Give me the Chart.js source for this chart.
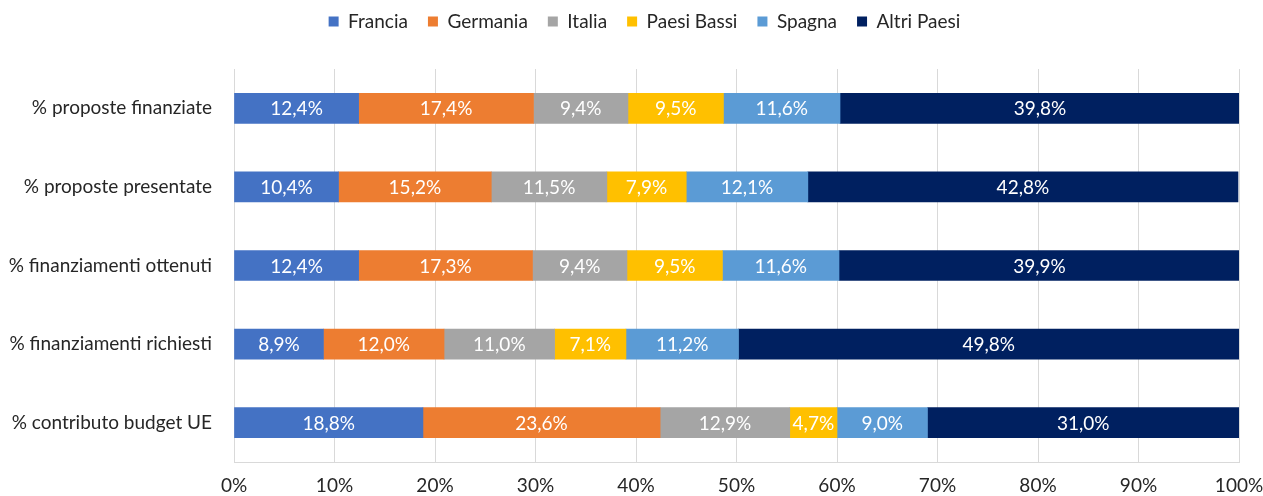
<!DOCTYPE html>
<html>
<head>
<meta charset="utf-8">
<script src="https://cdn.jsdelivr.net/npm/chart.js@4/dist/chart.umd.min.js"></script>
<style>
  html, body { margin: 0; padding: 0; background: #fff; }
  #wrap { width: 1263px; height: 496px; }
</style>
</head>
<body>
<div id="wrap"><canvas id="myChart" width="1263" height="496"></canvas></div>
<script>
const categories = [
  '% proposte finanziate',
  '% proposte presentate',
  '% finanziamenti ottenuti',
  '% finanziamenti richiesti',
  '% contributo budget UE'
];
const seriesNames = ['Francia', 'Germania', 'Italia', 'Paesi Bassi', 'Spagna', 'Altri Paesi'];
const francia = [12.4, 10.4, 12.4, 8.9, 18.8];
const germania = [17.4, 15.2, 17.3, 12.0, 23.6];
const italia = [9.4, 11.5, 9.4, 11.0, 12.9];
const paesiBassi = [9.5, 7.9, 9.5, 7.1, 4.7];
const spagna = [11.6, 12.1, 11.6, 11.2, 9.0];
const altriPaesi = [39.8, 42.8, 39.9, 49.8, 31.0];
const tickLabels = ['0%', '10%', '20%', '30%', '40%', '50%', '60%', '70%', '80%', '90%', '100%'];

const colors = ['#4472C4', '#ED7D31', '#A5A5A5', '#FFC000', '#5B9BD5', '#002060'];
const values = [francia, germania, italia, paesiBassi, spagna, altriPaesi];
const FONT = 'Lato, "Open Sans", sans-serif';
const FSIZE = 19;

// draws the value labels in the middle of each bar segment
const barLabels = {
  id: 'barLabels',
  afterDatasetsDraw(chart) {
    const ctx = chart.ctx;
    ctx.save();
    ctx.fillStyle = '#ffffff';
    ctx.font = FSIZE + 'px ' + FONT;
    ctx.textAlign = 'center';
    ctx.textBaseline = 'middle';
    chart.data.datasets.forEach((ds, i) => {
      chart.getDatasetMeta(i).data.forEach((bar, j) => {
        const x = (bar.x + bar.base) / 2;
        const txt = ds.data[j].toFixed(1).replace('.', ',') + '%';
        ctx.fillText(txt, x, bar.y + 1);
      });
    });
    ctx.restore();
  }
};

// extra space under the legend, and legend nudged a bit to the right
const legendGap = {
  id: 'legendGap',
  beforeInit(chart) {
    const fit = chart.legend.fit;
    chart.legend.fit = function () {
      fit.bind(chart.legend)();
      this.height += 28;
    };
  },
  afterLayout(chart) {
    chart.legend.left += 26;
  }
};

var ctx = document.getElementById('myChart').getContext('2d');
var chart = new Chart(ctx, {
  type: 'bar',
  data: {
    labels: categories,
    datasets: seriesNames.map((name, i) => ({
      label: name,
      data: values[i],
      backgroundColor: colors[i],
      borderColor: colors[i],
      borderWidth: 0,
      barThickness: 30
    }))
  },
  options: {
    indexAxis: 'y',
    responsive: false,
    animation: false,
    layout: { padding: { top: -8, right: 0, left: 0, bottom: 0 } },
    plugins: {
      legend: {
        position: 'top',
        labels: {
          font: { family: FONT, size: FSIZE },
          color: '#262626',
          boxWidth: 10,
          boxHeight: 10,
          padding: 20
        }
      },
      tooltip: { enabled: false }
    },
    scales: {
      x: {
        stacked: true,
        min: 0,
        max: 100,
        afterFit: (axis) => { axis.height = 34; axis.paddingRight = 24; },
        ticks: {
          stepSize: 10,
          color: '#262626',
          font: { family: FONT, size: FSIZE },
          padding: 12,
          callback: (v, i) => tickLabels[i]
        },
        grid: { color: '#D9D9D9', drawTicks: false },
        border: { display: true, color: '#D9D9D9' }
      },
      y: {
        stacked: true,
        afterFit: (axis) => { axis.width = 234; },
        ticks: {
          color: '#262626',
          font: { family: FONT, size: FSIZE },
          padding: 22
        },
        grid: { display: false, drawTicks: false },
        border: { display: false }
      }
    }
  },
  plugins: [barLabels, legendGap]
});
</script>
</body>
</html>
